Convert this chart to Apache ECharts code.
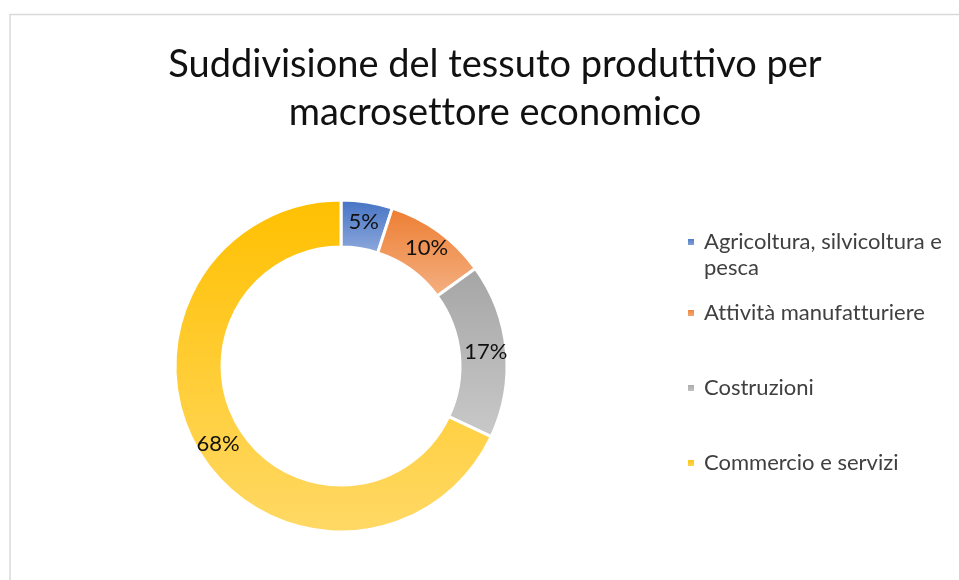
<!DOCTYPE html>
<html>
<head>
<meta charset="utf-8">
<script src="https://cdn.jsdelivr.net/npm/echarts@6/dist/echarts.min.js"></script>
<style>
  html, body { margin: 0; padding: 0; background: #fff; }
  #chart { width: 959px; height: 580px; }
</style>
</head>
<body>
<div id="chart"></div>
<script>
// Macro-sector breakdown of the productive fabric
const titleText = 'Suddivisione del tessuto produttivo per\nmacrosettore economico';
const sectors = [
  'Agricoltura, silvicoltura e pesca',
  'Attività manufatturiere',
  'Costruzioni',
  'Commercio e servizi'
];
const shares = [5, 10, 17, 68];
// top and bottom tones of each slice gradient
const topColors = ['#4472C4', '#ED7D31', '#A5A5A5', '#FFC000'];
const bottomColors = ['#8FAADC', '#F4B183', '#C9C9C9', '#FFD966'];
// vertical centre of each legend marker
const legendCenters = [242, 313, 388, 463];

const FONT = 'Lato, "Open Sans", sans-serif';
// keep "tt" as two separate glyphs (Lato would otherwise join them)
const noLig = s => s.replace(/tt/g, 't\u200Ct');

function grad(i) {
  return new echarts.graphic.LinearGradient(0, 0, 0, 1, [
    { offset: 0, color: topColors[i] },
    { offset: 1, color: bottomColors[i] }
  ]);
}

const chart = echarts.init(document.getElementById('chart'), null, { renderer: 'canvas' });

const LINE = 26;
const legends = sectors.map((name, i) => {
  const twoLine = i === 0;
  return {
    orient: 'vertical',
    left: 681,
    // an empty first line keeps the marker level with the first text line
    top: twoLine ? legendCenters[i] - 5 - LINE * 1.5 : legendCenters[i] - 5 - LINE / 2,
    data: [name],
    itemWidth: 8,
    itemHeight: 8,
    icon: 'rect',
    selectedMode: false,
    formatter: n => (twoLine ? '\nAgricoltura, silvicoltura e\npesca' : noLig(n)),
    textStyle: {
      fontFamily: FONT,
      fontSize: 22,
      color: '#404040',
      lineHeight: LINE,
      padding: [0, 0, 0, 4]
    }
  };
});

chart.setOption({
  animation: false,
  backgroundColor: '#fff',
  title: {
    text: noLig(titleText),
    left: 490,
    textAlign: 'center',
    top: 36,
    textStyle: {
      fontFamily: FONT,
      fontSize: 38,
      fontWeight: 'normal',
      color: '#111',
      lineHeight: 48
    }
  },
  legend: legends,
  graphic: [{
    type: 'polyline',
    shape: { points: [[10, 580], [10, 14.5], [959, 14.5]] },
    style: { stroke: '#D9D9D9', lineWidth: 1.5, fill: null },
    silent: true
  }],
  series: [{
    type: 'pie',
    center: [341, 366],
    radius: [119, 166],
    startAngle: 90,
    clockwise: true,
    avoidLabelOverlap: false,
    itemStyle: { borderColor: '#fff', borderWidth: 3 },
    label: {
      show: true,
      position: 'inside',
      formatter: p => p.value + '%',
      fontFamily: FONT,
      fontSize: 22,
      color: '#111'
    },
    labelLine: { show: false },
    emphasis: { disabled: true },
    data: sectors.map((name, i) => ({
      name: name,
      value: shares[i],
      itemStyle: { color: grad(i) }
    }))
  }]
});
</script>
</body>
</html>
